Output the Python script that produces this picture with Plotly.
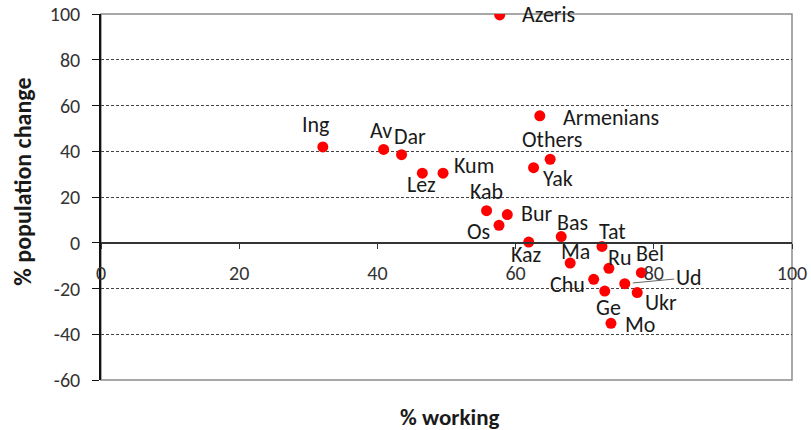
import plotly.graph_objects as go

# data
groups = ["Ing", "Av", "Dar", "Lez", "Kum", "Azeris", "Armenians", "Others", "Yak",
          "Kab", "Bur", "Os", "Bas", "Kaz", "Tat", "Ma", "Ru", "Bel", "Chu", "Ud",
          "Ge", "Ukr", "Mo"]
pct_working = [32.1, 40.9, 43.5, 46.5, 49.5, 57.7, 63.5, 65.0, 62.6,
               55.8, 58.8, 57.6, 66.6, 61.9, 72.5, 67.9, 73.5, 78.2, 71.3, 75.8,
               72.9, 77.6, 73.8]
pop_change = [41.9, 40.8, 38.5, 30.4, 30.4, 99.6, 55.5, 36.5, 32.8,
              14.0, 12.3, 7.6, 2.7, 0.3, -1.6, -8.9, -11.2, -13.1, -16.0, -17.9,
              -21.1, -21.8, -35.2]
x_ticks = [0, 20, 40, 60, 80, 100]
y_ticks = [-60, -40, -20, 0, 20, 40, 60, 80, 100]

# label placement: (anchor, dx px, dy px) relative to the point
label_pos = {
    "Ing": ("center", -7, -22), "Av": ("center", -3, -19), "Dar": ("center", 8, -18),
    "Lez": ("center", -1, 11), "Kum": ("left", 9, -8), "Azeris": ("left", 20, 0),
    "Armenians": ("left", 21, 2), "Others": ("center", 2, -20), "Yak": ("center", 24, 11),
    "Kab": ("center", 0, -19), "Bur": ("left", 12, -1), "Os": ("right", -7, 6),
    "Bas": ("center", 11, -14), "Kaz": ("center", -2, 12), "Tat": ("center", 11, -15),
    "Ma": ("center", 5, -12), "Ru": ("center", 11, -11), "Bel": ("center", 9, -19),
    "Chu": ("right", -7, 5), "Ge": ("center", 4, 16), "Ukr": ("center", 24, 10),
    "Mo": ("left", 12, 1),
}

FONT = "Calibri, Carlito, Lato, sans-serif"
LABEL_SIZE = 22

fig = go.Figure()
fig.add_trace(go.Scatter(
    x=pct_working, y=pop_change, mode="markers",
    marker=dict(color="#ff0000", size=11),
    hovertext=groups, showlegend=False,
))

annotations = []
for name, xv, yv in zip(groups, pct_working, pop_change):
    if name == "Ud":
        # label with a leader line
        annotations.append(dict(
            x=xv, y=yv, text=name, showarrow=True, arrowhead=0, arrowwidth=1,
            arrowcolor="#666", ax=64, ay=-6, standoff=8,
            font=dict(family=FONT, size=LABEL_SIZE, color="#1a1a1a"),
        ))
        continue
    anchor, dx, dy = label_pos[name]
    annotations.append(dict(
        x=xv, y=yv, text=name, showarrow=False,
        xanchor=anchor, yanchor="middle", xshift=dx, yshift=-dy,
        font=dict(family=FONT, size=LABEL_SIZE, color="#1a1a1a"),
    ))

# axis titles
annotations.append(dict(
    xref="paper", yref="paper", x=0, y=0.542, xshift=-78, textangle=-90,
    xanchor="center", yanchor="middle",
    text="<b>% population change</b>", showarrow=False,
    font=dict(family=FONT, size=24, color="#1a1a1a"),
))
annotations.append(dict(
    xref="paper", yref="paper", x=0.505, y=0, yshift=-37,
    xanchor="center", yanchor="middle",
    text="<b>% working</b>", showarrow=False,
    font=dict(family=FONT, size=23, color="#1a1a1a"),
))

fig.update_layout(
    width=811, height=430,
    margin=dict(l=101, r=19, t=14, b=50),
    paper_bgcolor="white", plot_bgcolor="white",
    annotations=annotations,
    shapes=[dict(type="rect", xref="x domain", yref="y domain", x0=0, x1=1, y0=0, y1=1,
                 line=dict(color="#8c8c8c", width=1.5), layer="below")],
)

fig.update_xaxes(
    range=[0, 100], tickvals=x_ticks, anchor="free", position=0.375,
    showline=True, linecolor="#333", linewidth=1.5,
    ticks="outside", ticklen=5, tickcolor="#333", ticklabelstandoff=7,
    showgrid=False, zeroline=False, automargin=False,
    tickfont=dict(family=FONT, size=20, color="#333"),
)
fig.update_yaxes(
    range=[-60, 100], tickvals=y_ticks, ticktext=[str(v) for v in y_ticks],
    showline=True, linecolor="#111", linewidth=1.5,
    ticks="outside", ticklen=7, tickcolor="#111", ticklabelstandoff=8,
    showgrid=True, gridcolor="#444", gridwidth=1, griddash="3px,2px",
    zeroline=False, automargin=False,
    tickfont=dict(family=FONT, size=20, color="#333"),
)

# drop the default 8px body margin so the figure fills the window
fig.write_html("out.html", config={"displayModeBar": False},
               post_script="document.body.style.margin='0';")
